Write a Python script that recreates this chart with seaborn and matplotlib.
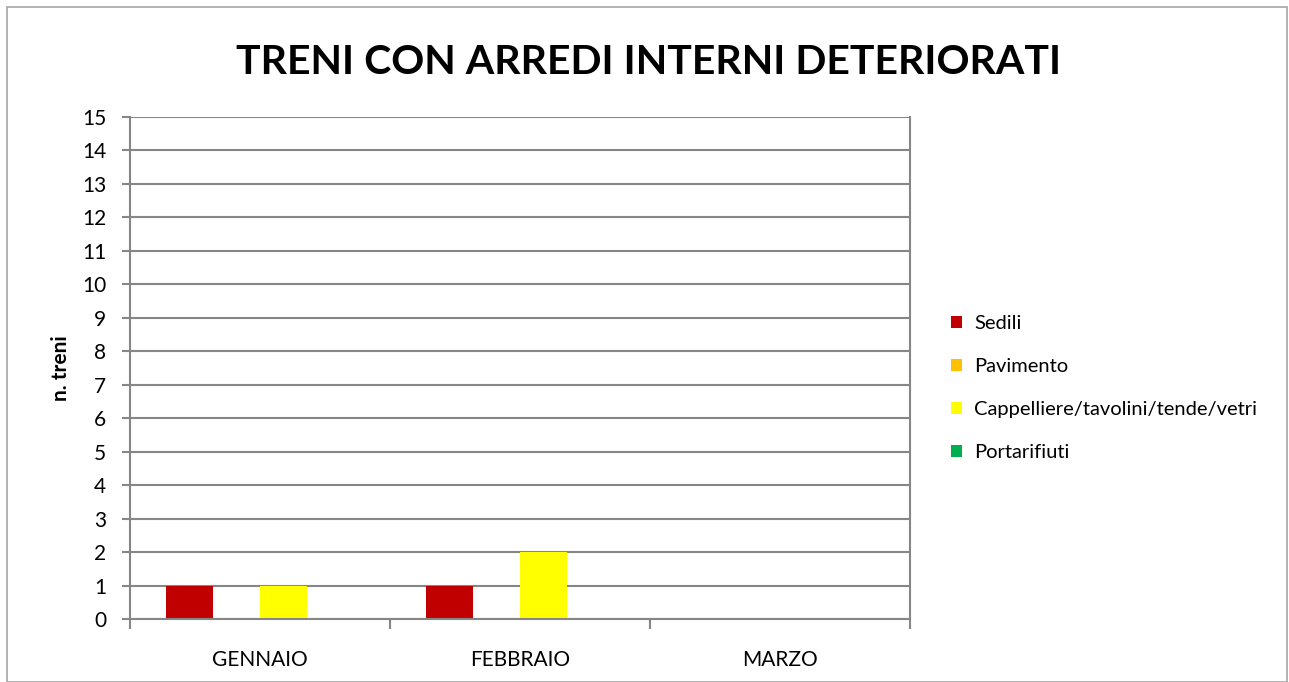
import matplotlib
matplotlib.use("Agg")
import matplotlib.pyplot as plt
import pandas as pd
import seaborn as sns
from matplotlib.patches import Rectangle

mesi = ["GENNAIO", "FEBBRAIO", "MARZO"]
serie = ["Sedili", "Pavimento", "Cappelliere/tavolini/tende/vetri", "Portarifiuti"]
sedili = [1, 1, 0]
pavimento = [0, 0, 0]
cappelliere = [1, 2, 0]
portarifiuti = [0, 0, 0]
colori = ["#C00000", "#FFC000", "#FFFF00", "#00B050"]

rows = []
for nome, valori in zip(serie, [sedili, pavimento, cappelliere, portarifiuti]):
    for mese, v in zip(mesi, valori):
        rows.append({"mese": mese, "serie": nome, "valore": v})
df = pd.DataFrame(rows)

sns.set_style("white")
plt.rcParams["font.family"] = ["Lato", "DejaVu Sans"]
plt.rcParams["text.color"] = "black"
plt.rcParams["xtick.color"] = "black"
plt.rcParams["ytick.color"] = "black"
plt.rcParams["axes.labelcolor"] = "black"

fig = plt.figure(figsize=(12.89, 6.82), dpi=100)
ax = fig.add_axes([130 / 1289, 1 - 619 / 682, 780 / 1289, 502 / 682])

sns.barplot(data=df, x="mese", y="valore", hue="serie", hue_order=serie,
            order=mesi, palette=colori, width=0.72, saturation=1,
            linewidth=0, ax=ax, legend=True)

grigio = "#868686"
ax.set_ylim(0, 15)
ax.set_xlim(-0.5, 2.5)
ax.set_yticks(range(0, 16))
ax.yaxis.grid(True, color=grigio, linewidth=1.5)
ax.set_axisbelow(True)
for s in ["left", "right", "bottom"]:
    ax.spines[s].set_color(grigio)
    ax.spines[s].set_linewidth(1.5)
ax.spines["top"].set_visible(False)

ax.tick_params(axis="y", length=6, width=1.5, color=grigio, labelcolor="black",
               labelsize=15, pad=11, left=True)
ax.set_xticks([-0.5, 0.5, 1.5, 2.5], minor=True)
ax.tick_params(axis="x", which="minor", length=7, width=1.5, color=grigio, bottom=True)
ax.tick_params(axis="x", which="major", length=0, labelsize=15, labelcolor="black", pad=22)
ax.set_xlabel("")
ax.set_ylabel("n. treni", fontsize=15, fontweight="bold", labelpad=8)

handles, labels = ax.get_legend_handles_labels()
ax.get_legend().remove()
fig.legend(handles, labels, loc="center left", bbox_to_anchor=(933 / 1289, 1 - 388 / 682),
           frameon=False, fontsize=14.5, handlelength=0.55, handleheight=0.55,
           handletextpad=0.6, labelspacing=1.3)

fig.text(0.503, 1 - 62 / 682, "TRENI CON ARREDI INTERNI DETERIORATI",
         ha="center", va="center", fontsize=29.5, fontweight="bold")

fig.patches.append(Rectangle((7 / 1289, 0), 1280 / 1289, 675 / 682, transform=fig.transFigure,
                             fill=False, edgecolor="#A6A6A6", linewidth=1.2))

fig.savefig("out.png", dpi=100)
